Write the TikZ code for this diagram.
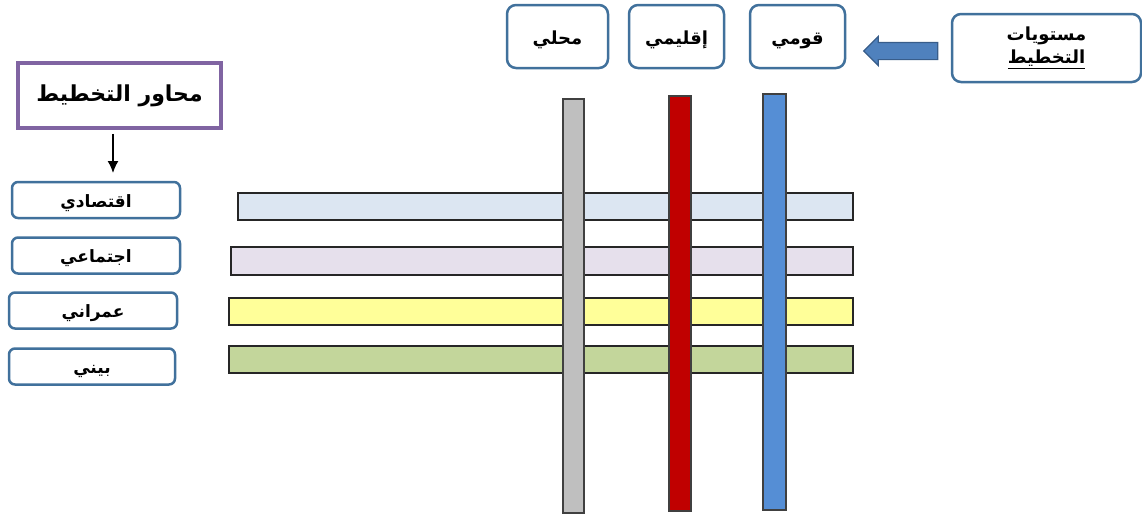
\documentclass[tikz,border=0pt]{standalone}
\usepackage{fontspec}
\usepackage{tikz}
\usetikzlibrary{arrows.meta,shapes.arrows}
\TeXXeTstate=1
\newfontfamily\arabicfont[Script=Arabic]{DejaVu Sans}
\definecolor{boxblue}{HTML}{41719C}
\definecolor{purple}{HTML}{8064A2}
\definecolor{arrblue}{HTML}{4F81BD}
\definecolor{arrline}{HTML}{385D8A}
\definecolor{ecobar}{HTML}{DCE6F2}
\definecolor{socbar}{HTML}{E6E0EC}
\definecolor{urbbar}{HTML}{FFFF99}
\definecolor{envbar}{HTML}{C3D69B}
\definecolor{locbar}{HTML}{BFBFBF}
\definecolor{regbar}{HTML}{C00000}
\definecolor{natbar}{HTML}{558ED5}

\begin{document}
\begin{tikzpicture}[
 x=1pt,y=-1pt,
 axisbox/.style={draw=boxblue,line width=2.5pt,rounded corners=6pt,fill=white,inner sep=0pt,text height=14pt,text depth=0pt,font=\arabicfont\bfseries\fontsize{17}{20}\selectfont},
 levelbox/.style={draw=boxblue,line width=2.5pt,rounded corners=9pt,fill=white,inner sep=0pt,align=center,font=\arabicfont\bfseries\fontsize{18}{21}\selectfont},
 titlebox/.style={draw=purple,line width=3.5pt,fill=white,inner sep=0pt,font=\arabicfont\bfseries\fontsize{22}{26}\selectfont},
 hbar/.style={draw=black!85,line width=1.4pt},
 vbar/.style={draw=black!75,line width=1.4pt},
 arr/.style={-{Latex[length=12pt,width=11pt]},line width=1.5pt,draw=black}
]
\useasboundingbox (0,0) rectangle (1142,515);
% horizontal bars (axes)
\foreach \xl/\yt/\yb/\col in {238/193/220/ecobar,231/247/275/socbar,229/298/325/urbbar,229/346/373/envbar}{\draw[hbar,fill=\col] (\xl,\yt) rectangle (853,\yb);}
% vertical bars (levels)
\foreach \xl/\xr/\yt/\yb/\col in {563/584/99/513/locbar,669/691/96/511/regbar,763/786/94/510/natbar}{\draw[vbar,fill=\col] (\xl,\yt) rectangle (\xr,\yb);}
% axes
\node[titlebox,minimum width=203,minimum height=65] (axes) at (119.5,95.5) {\beginR محاور التخطيط\endR};
\foreach \n/\cx/\cy/\w/\t in {eco/96/200/168/اقتصادي,soc/96/255.5/168/اجتماعي,urb/93/310.5/168/عمراني,env/92/366.5/166/بيني}{\node[axisbox,minimum width=\w,minimum height=36] (\n) at (\cx,\cy) {\beginR\t\endR};}
\coordinate (down) at (113,173);
\draw[arr] ([xshift=-6.5pt,yshift=-4pt]axes.south) -- (down);
% levels
\foreach \n/\cx/\w/\t in {loc/557.5/101/محلي,reg/676.5/95/إقليمي,nat/797.5/95/قومي}{\node[levelbox,text height=15pt,text depth=0pt,minimum width=\w,minimum height=63] (\n) at (\cx,36.5) {\beginR\t\endR};}
\node[levelbox,minimum width=189,minimum height=68,font=\arabicfont\bfseries\fontsize{18}{23}\selectfont] (levels) at (1046.5,48) {\beginR مستويات\endR\\\underline{\beginR التخطيط\endR}};
\node[single arrow,shape border rotate=180,draw=arrline,fill=arrblue,line width=1.2pt,inner sep=0pt,text height=8pt,text depth=8pt,single arrow head extend=6pt,minimum height=74] (lvlarrow) at (905,51) {};
\end{tikzpicture}
\end{document}
